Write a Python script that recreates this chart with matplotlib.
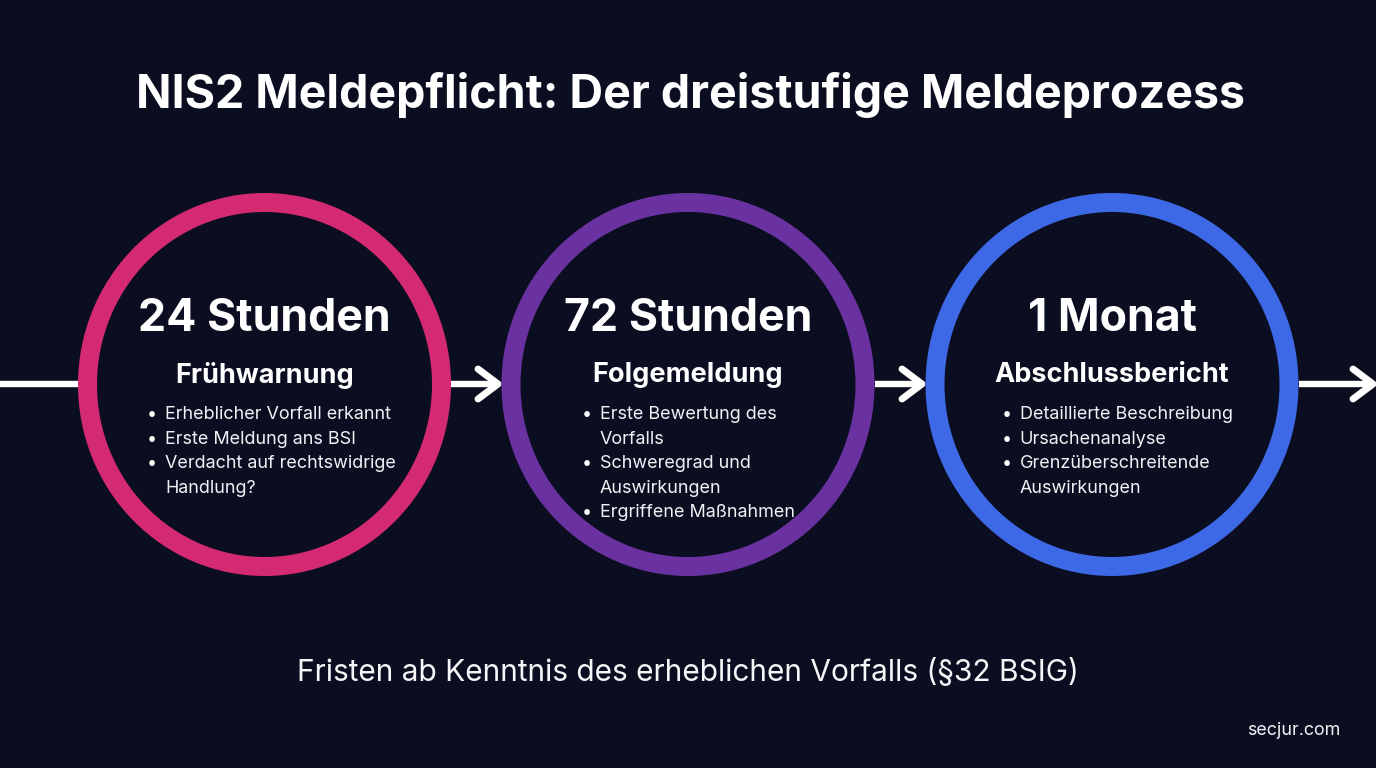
import matplotlib
matplotlib.use("Agg")
import matplotlib.pyplot as plt
from matplotlib.patches import Ellipse

plt.rcParams["font.family"] = ["Inter", "DejaVu Sans"]

BG = "#0b0d21"
TITLE = "NIS2 Meldepflicht: Der dreistufige Meldeprozess"
FOOTER = "Fristen ab Kenntnis des erheblichen Vorfalls (§32 BSIG)"
SOURCE = "secjur.com"

durations = ["24 Stunden", "72 Stunden", "1 Monat"]
stages = ["Frühwarnung", "Folgemeldung", "Abschlussbericht"]
ring_colors = ["#d42a72", "#6a32a0", "#3d68e6"]
centers_x = [264.5, 688, 1112]
list_x = [165, 600, 1019.5]
details = [
    [("Erheblicher Vorfall erkannt", True), ("Erste Meldung ans BSI", True),
     ("Verdacht auf rechtswidrige", True), ("Handlung?", False)],
    [("Erste Bewertung des", True), ("Vorfalls", False), ("Schweregrad und", True),
     ("Auswirkungen", False), ("Ergriffene Maßnahmen", True)],
    [("Detaillierte Beschreibung", True), ("Ursachenanalyse", True),
     ("Grenzüberschreitende", True), ("Auswirkungen", False)],
]

fig = plt.figure(figsize=(13.76, 7.68), dpi=100, facecolor=BG)
ax = fig.add_axes([0, 0, 1, 1])
ax.set_xlim(0, 1376)
ax.set_ylim(768, 0)
ax.set_axis_off()

center_y = 384.5
ring_w = 373 - 19
ring_h = 383 - 19
arrow_y = 384


def arrow(x0, x1):
    ax.plot([x0, x1 - 3], [arrow_y, arrow_y], color="white", lw=4.6, solid_capstyle="butt", zorder=1)
    ax.plot([x1 - 23, x1 - 3, x1 - 23], [arrow_y - 15, arrow_y, arrow_y + 15],
            color="white", lw=5, solid_capstyle="round", solid_joinstyle="round", zorder=1)


ax.plot([0, 80], [arrow_y, arrow_y], color="white", lw=4.6, solid_capstyle="butt", zorder=1)
arrow(451, 501)
arrow(875, 925)
arrow(1299, 1376)

ax.text(690.5, 95, TITLE, color="white", fontsize=33.5, fontweight="bold", ha="center", va="center")

for i in range(3):
    ring = Ellipse((centers_x[i], center_y), ring_w, ring_h, facecolor=BG, edgecolor=ring_colors[i],
                   linewidth=19 * 0.72, zorder=2)
    ax.add_patch(ring)
    ax.text(centers_x[i], 319, durations[i], color="white", fontsize=32.2, fontweight="bold",
            ha="center", va="center", zorder=3)
    ax.text(centers_x[i], 375.5, stages[i], color="white", fontsize=19.5, fontweight="bold",
            ha="center", va="center", zorder=3)
    y = 414.5
    for line, bullet in details[i]:
        if bullet:
            ax.text(list_x[i] - 13, y, "•", color="white", fontsize=13, ha="center", va="center", zorder=3)
        ax.text(list_x[i], y, line, color="#f2f2f6", fontsize=12.95, ha="left", va="center", zorder=3)
        y += 24.6

ax.text(688, 672.5, FOOTER, color="#f6f6f8", fontsize=21.5, ha="center", va="center")
ax.text(1294, 730.5, SOURCE, color="#f2f2f6", fontsize=12.9, ha="center", va="center")

fig.savefig("out.png", dpi=100, facecolor=BG)
plt.close(fig)
